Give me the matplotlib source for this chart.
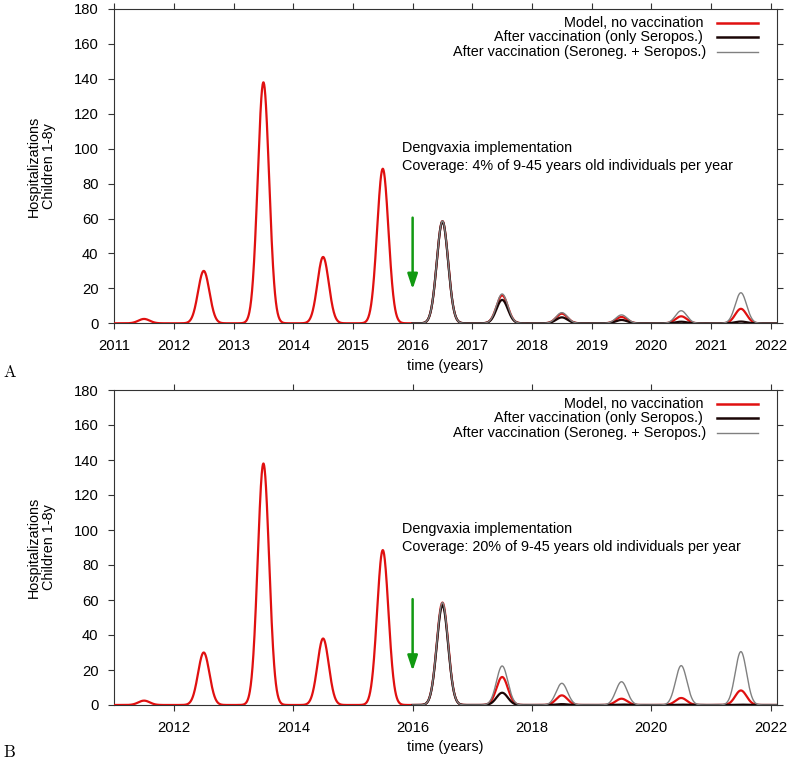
import numpy as np
import matplotlib.pyplot as plt

plt.rcParams['font.family'] = ['Liberation Sans', 'DejaVu Sans']
plt.rcParams['mathtext.fontset'] = 'cm'

# yearly epidemic peaks (mid-year), hospitalizations children 1-8y
peak_years = [2011.5, 2012.5, 2013.5, 2014.5, 2015.5, 2016.5,
              2017.5, 2018.5, 2019.5, 2020.5, 2021.5]
no_vacc = [2.5, 30, 138, 38, 88.5, 58.5, 16, 5.5, 3.6, 4.0, 8.3]

# after vaccination start (2016)
vacc_years = [2016.5, 2017.5, 2018.5, 2019.5, 2020.5, 2021.5]
seropos_4 = [58.3, 13.4, 3.4, 1.9, 0.9, 1.0]
both_4 = [58.6, 16.8, 6.1, 4.8, 7.2, 17.5]
seropos_20 = [57.0, 7.0, 0.5, 0.3, 0.2, 0.2]
both_20 = [58.6, 22.3, 12.4, 13.3, 22.5, 30.5]

coverages = ['4%', '20%']
panel_labels = ['A', 'B']

RED = '#e01010'
BLACK = '#1a0505'
GRAY = '#808080'
GREEN = '#119911'
SIGMA = 0.095  # width of each seasonal peak (years)
FS = 10.4


def season_curve(t, centers, heights):
    y = np.zeros_like(t)
    for c, h in zip(centers, heights):
        y += h * np.exp(-(t - c) ** 2 / (2 * SIGMA ** 2))
    return y


fig = plt.figure(figsize=(7.91, 7.61), dpi=100)
W, H = 791, 761
axes_px = [(9, 323.3), (390, 705)]

t_all = np.linspace(2011, 2022.1, 3000)
t_vac = np.linspace(2016, 2022.1, 2000)

for k, (cov, sero, both) in enumerate(zip(coverages, [seropos_4, seropos_20], [both_4, both_20])):
    top, bot = axes_px[k]
    ax = fig.add_axes([114.2 / W, 1 - bot / H, (776.7 - 114.2) / W, (bot - top) / H])

    ax.plot(t_all, season_curve(t_all, peak_years, no_vacc), color=RED, lw=1.6, zorder=3)
    ax.plot(t_vac, season_curve(t_vac, vacc_years, sero), color=BLACK, lw=1.6, zorder=4)
    ax.plot(t_vac, season_curve(t_vac, vacc_years, both), color=GRAY, lw=1.0, zorder=5)

    ax.set_xlim(2011, 2022.1)
    ax.set_ylim(0, 180)
    ax.set_yticks(np.arange(0, 181, 20))
    if k == 0:
        ax.set_xticks(np.arange(2011, 2023, 1))
    else:
        ax.set_xticks(np.arange(2012, 2023, 2))
    ax.tick_params(direction='out', top=True, right=True, length=4.3, width=0.8,
                   labelsize=10.6, pad=7, color='#333333')
    for s in ax.spines.values():
        s.set_linewidth(0.8)
        s.set_color('#333333')

    # legend drawn by hand, gnuplot style
    entries = [('Model, no vaccination', RED, 1.8),
               ('After vaccination (only Seropos.)', BLACK, 1.8),
               ('After vaccination (Seroneg. + Seropos.)', GRAY, 1.0)]
    for i, (lab, col, lw) in enumerate(entries):
        yy = [0.956, 0.910, 0.863][i]
        ax.text(0.889 + (0.004 if i == 2 else 0), yy, lab, transform=ax.transAxes,
                ha='right', va='center', fontsize=FS)
        ax.plot([0.910, 0.972], [yy, yy], transform=ax.transAxes, color=col, lw=lw)

    ax.text(2015.82, 100.5, 'Dengvaxia implementation', fontsize=FS, va='center')
    ax.text(2015.82, 90.3, 'Coverage: ' + cov + ' of 9-45 years old individuals per year',
            fontsize=FS, va='center')
    ax.annotate('', xy=(2016, 19.5), xytext=(2016, 60.5),
                arrowprops=dict(arrowstyle='-|>,head_width=0.3,head_length=0.9',
                                color=GREEN, lw=1.8, mutation_scale=10, shrinkA=0, shrinkB=0))

    ax.set_xlabel('time (years)', fontsize=FS, labelpad=4)
    fig.text(41.5 / W, 1 - (top + bot) / 2 / H, 'Hospitalizations\nChildren 1-8y',
             rotation=90, ha='center', va='center', fontsize=FS, multialignment='center',
             linespacing=1.1)
    fig.text(3 / W, 1 - (372 + 380 * k) / H, r'$\mathrm{' + panel_labels[k] + '}$',
             fontsize=12, ha='left', va='center')

fig.savefig('out.png', dpi=100)
